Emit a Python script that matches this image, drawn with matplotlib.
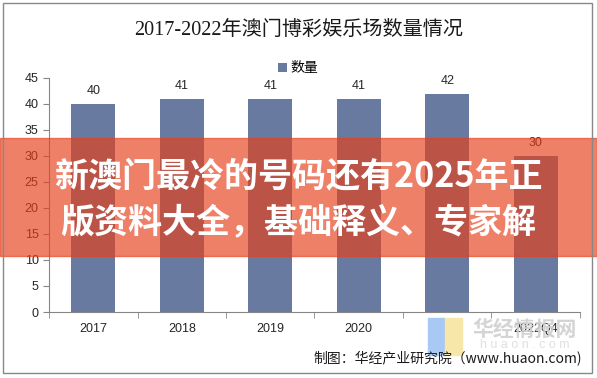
import matplotlib
matplotlib.use("Agg")
import matplotlib.pyplot as plt
from matplotlib.patches import Rectangle
import numpy as np

plt.rcParams['font.family'] = ['Liberation Sans', 'Noto Sans CJK SC', 'DejaVu Sans']

# data
years = ['2017', '2018', '2019', '2020', '2021', '2022Q4']
counts = [40, 41, 41, 41, 42, 30]
title = '2017-2022年澳门博彩娱乐场数量情况'
series_name = '数量'
source = '制图：华经产业研究院（www.huaon.com)'
banner_lines = ['新澳门最冷的号码还有2025年正', '版资料大全，基础释义、专家解']

bar_color = '#687AA0'
axis_color = '#868686'

fig = plt.figure(figsize=(5.97, 3.78), dpi=100)
ax = fig.add_axes([0.0821, 0.1746, 0.8894, 0.6191])

x = np.arange(len(years))
bars = ax.bar(x, counts, width=0.5, color=bar_color, label=series_name, zorder=2)
for xi, v in zip(x, counts):
    ax.annotate(str(v), (xi, v), xytext=(0, 5), textcoords='offset points',
                ha='center', va='bottom', fontsize=9, color='#262626')

ax.set_xlim(-0.5, len(years) - 0.5)
ax.set_ylim(0, 45)
ax.set_yticks(range(0, 46, 5))
ax.set_xticks(x)
ax.set_xticklabels(years)
ax.set_xticks(np.arange(-0.5, len(years)), minor=True)
ax.tick_params(axis='x', which='major', length=0, pad=8, labelsize=9, labelcolor='#262626')
ax.tick_params(axis='x', which='minor', length=4, color=axis_color, direction='out')
ax.tick_params(axis='y', length=4, color=axis_color, labelsize=9, labelcolor='#262626')
for s in ['top', 'right']:
    ax.spines[s].set_visible(False)
for s in ['left', 'bottom']:
    ax.spines[s].set_color(axis_color)
    ax.spines[s].set_linewidth(0.8)

fig.text(0.5, 1 - 30 / 378, title, ha='center', va='center', fontsize=14.5,
         family=['Liberation Serif', 'Noto Sans CJK SC'], color='#1a1a1a')
ax.legend(loc='center', bbox_to_anchor=(0.5, 1 - 68 / 378), bbox_transform=fig.transFigure,
          frameon=False, fontsize=10, handlelength=0.6, handleheight=0.6, handletextpad=0.3)

# watermark logo
fig.patches.append(Rectangle((428 / 597, 1 - 355 / 378), 17 / 597, 37 / 378,
                             transform=fig.transFigure, color='#A9C9F5', zorder=5))
fig.patches.append(Rectangle((445 / 597, 1 - 355 / 378), 17 / 597, 37 / 378,
                             transform=fig.transFigure, color='#F7E7A9', zorder=5))
fig.text(525 / 597, 1 - 329 / 378, '华经情报网', ha='center', va='center', fontsize=15,
         fontweight='bold', family=['Noto Sans CJK SC'], color='#D0D0D0', alpha=0.9, zorder=6)
fig.text(525 / 597, 1 - 345 / 378, 'h u a o n . c o m', ha='center', va='center', fontsize=9,
         color='#E0E0E0', zorder=6)

fig.text(582 / 597, 1 - 359 / 378, source, ha='right', va='center', fontsize=10,
         family=['Noto Sans CJK SC', 'DejaVu Sans'], color='#1a1a1a', zorder=7)

# overlay banner
fig.patches.append(Rectangle((0, 1 - 256 / 378), 1, 118 / 378, transform=fig.transFigure,
                             color=(232 / 255, 63 / 255, 26 / 255), alpha=0.66, zorder=8))
for i, line in enumerate(banner_lines):
    fig.text(0.5, 1 - (177 + 46 * i) / 378, line, ha='center', va='center', fontsize=24.5,
             fontweight='bold', family=['Noto Sans CJK SC'], color='white', zorder=9)

# outer frame
fig.patches.append(Rectangle((3 / 597, 1 - 373 / 378), 589 / 597, 370 / 378,
                             transform=fig.transFigure, fill=False, edgecolor='#888888',
                             linewidth=1, zorder=10))

fig.savefig('out.png', dpi=100)
